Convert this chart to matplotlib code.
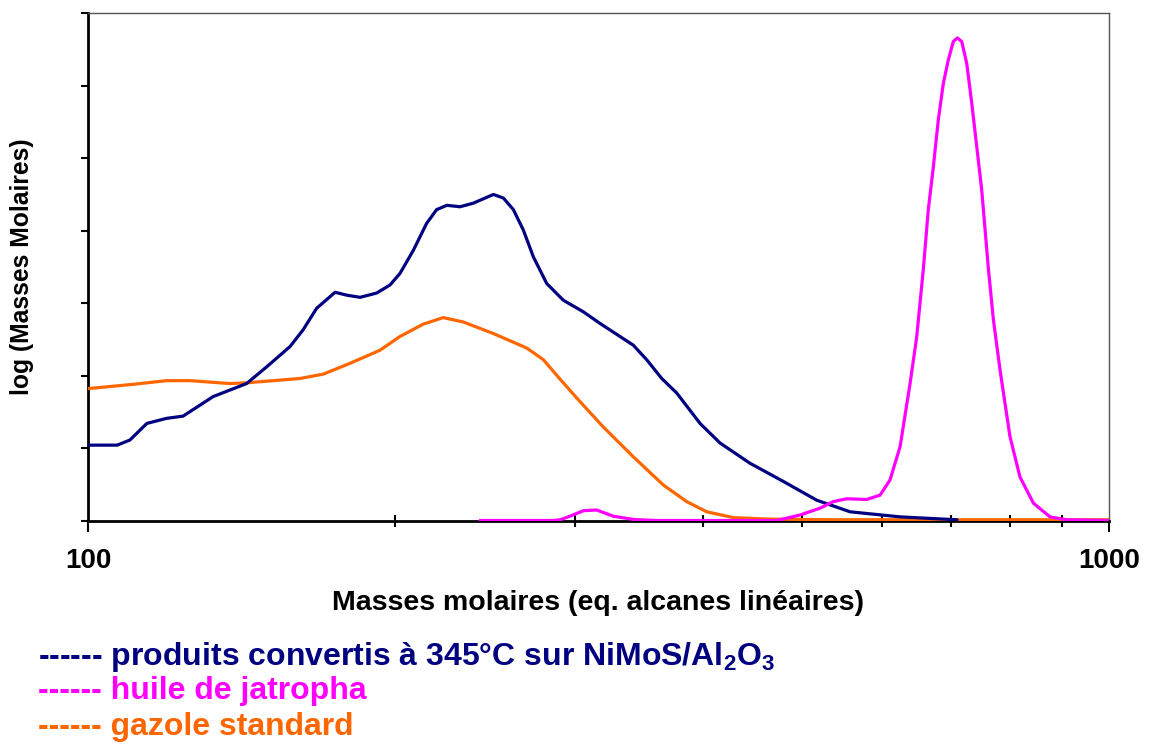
import matplotlib
matplotlib.use("Agg")
import matplotlib.pyplot as plt
from matplotlib.ticker import FixedLocator, NullFormatter

plt.rcParams['font.family'] = ['Liberation Sans', 'DejaVu Sans']
plt.rcParams['font.weight'] = 'bold'
plt.rcParams['mathtext.fontset'] = 'custom'
plt.rcParams['mathtext.rm'] = 'Liberation Sans:bold'
plt.rcParams['mathtext.bf'] = 'Liberation Sans:bold'
plt.rcParams['mathtext.it'] = 'Liberation Sans:bold'

# --- data: molar mass (eq. linear alkanes) vs relative signal ---
produits_m = [100, 106.8, 109.9, 114.2, 119.4, 123.9, 132.6, 143.0, 149.6, 157.7,
              162.4, 167.5, 174.6, 179.2, 184.7, 191.8, 197.6, 202.1, 208.3, 214.6,
              219.5, 224.6, 231.4, 238.5, 249.5, 255.2, 261.0, 266.9, 273.0, 281.4,
              292.1, 305.6, 317.3, 331.9, 342.0, 352.5, 364.7, 377.2, 397.6, 415.9,
              445.0, 479.7, 517.3, 557.7, 624.3, 709.9]
produits_y = [1.04, 1.04, 1.11, 1.34, 1.41, 1.44, 1.71, 1.89, 2.12, 2.40,
              2.63, 2.93, 3.15, 3.11, 3.08, 3.14, 3.25, 3.41, 3.73, 4.10,
              4.29, 4.35, 4.33, 4.38, 4.50, 4.45, 4.29, 4.01, 3.64, 3.27,
              3.04, 2.88, 2.72, 2.54, 2.42, 2.22, 1.96, 1.76, 1.34, 1.07,
              0.79, 0.54, 0.28, 0.12, 0.05, 0.01]

jatropha_m = [242.1, 285.4, 290.0, 296.6, 305.6, 314.9, 326.9, 342.0, 359.3, 472.7,
              498.2, 521.2, 536.7, 553.6, 579.0, 596.7, 610.3, 624.3, 638.5, 648.2,
              657.9, 665.3, 672.9, 680.5, 688.2, 696.1, 703.9, 710.3, 717.4, 725.5,
              733.8, 742.1, 750.5, 761.9, 770.5, 782.1, 799.8, 818.1, 843.2, 875.4,
              909.1, 1000]
jatropha_y = [0.0, 0.0, 0.01, 0.06, 0.135, 0.145, 0.06, 0.015, 0.0, 0.0,
              0.076, 0.17, 0.26, 0.30, 0.29, 0.35, 0.56, 1.02, 1.89, 2.54,
              3.47, 4.29, 4.88, 5.53, 6.03, 6.36, 6.61, 6.66, 6.61, 6.31,
              5.76, 5.16, 4.56, 3.47, 2.77, 2.08, 1.16, 0.60, 0.24, 0.05,
              0.01, 0.0]

gazole_m = [100, 110.8, 119.4, 125.9, 137.7, 143.0, 161.3, 170.0, 180.6, 193.2,
            202.1, 213.0, 222.8, 233.1, 249.5, 269.0, 279.2, 290.0, 301.1, 319.7,
            342.0, 366.0, 385.9, 403.7, 428.6, 462.1, 536.5, 1000]
gazole_y = [1.82, 1.88, 1.93, 1.93, 1.89, 1.90, 1.96, 2.02, 2.17, 2.35,
            2.54, 2.71, 2.80, 2.74, 2.58, 2.38, 2.22, 1.95, 1.69, 1.29,
            0.88, 0.49, 0.26, 0.12, 0.04, 0.02, 0.01, 0.01]

major_ticks = [100, 1000]
major_labels = ["100", "1000"]
minor_ticks = [200, 300, 400, 500, 600, 700, 800, 900]

NAVY = "#000080"
MAGENTA = "#FF00FF"
ORANGE = "#FF6600"

fig = plt.figure(figsize=(11.5, 7.46), dpi=100)
ax = fig.add_axes([88/1150, 1 - 520.5/746, (1109-88)/1150, (520.5-13.3)/746])

ax.plot(gazole_m, gazole_y, color=ORANGE, lw=2.3, zorder=3,
        solid_joinstyle='round', solid_capstyle='round')
ax.plot(produits_m, produits_y, color=NAVY, lw=2.3, zorder=4,
        solid_joinstyle='round', solid_capstyle='round')
ax.plot(jatropha_m, jatropha_y, color=MAGENTA, lw=2.3, zorder=5,
        solid_joinstyle='round', solid_capstyle='round')

ax.set_xscale('log')
ax.set_xlim(100, 1000)
ax.set_ylim(0, 7)

ax.xaxis.set_major_locator(FixedLocator(major_ticks))
ax.set_xticks(major_ticks)
ax.set_xticklabels(major_labels)
ax.xaxis.set_minor_locator(FixedLocator(minor_ticks))
ax.xaxis.set_minor_formatter(NullFormatter())
ax.set_yticks(range(0, 8))
ax.set_yticklabels([])

ax.tick_params(axis='x', which='major', direction='out', length=8, width=1.5,
               labelsize=20, pad=12)
ax.tick_params(axis='x', which='minor', direction='inout', length=9, width=1.5)
ax.tick_params(axis='y', which='major', direction='out', length=5, width=1.5)

for side in ['left', 'bottom']:
    ax.spines[side].set_linewidth(2)
    ax.spines[side].set_color('black')
for side in ['top', 'right']:
    ax.spines[side].set_linewidth(1)
    ax.spines[side].set_color('#555555')

for lbl in ax.get_xticklabels():
    lbl.set_fontweight('bold')

fig.text(598/1150, 1 - 603/746, "Masses molaires (eq. alcanes linéaires)",
         fontsize=20.5, fontweight='bold', ha='center', va='center')
fig.text(22/1150, 1 - 267/746, "log (Masses Molaires)", rotation=90,
         fontsize=17.7, fontweight='bold', ha='center', va='center')

legend_entries = [
    ("------ produits convertis à 345°C sur NiMoS/Al$_2$O$_3$", NAVY, 665),
    ("------ huile de jatropha", MAGENTA, 699),
    ("------ gazole standard", ORANGE, 735),
]
for txt, col, ybase in legend_entries:
    fig.text(38/1150, 1 - ybase/746, txt, color=col, fontsize=23,
             fontweight='bold', ha='left', va='baseline')

fig.savefig("out.png", dpi=100)
